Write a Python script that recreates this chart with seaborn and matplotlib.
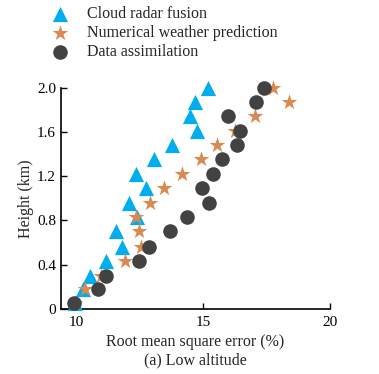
import numpy as np
import pandas as pd
import seaborn as sns
import matplotlib.pyplot as plt
from matplotlib.ticker import FuncFormatter

methods = ['Cloud radar fusion', 'Numerical weather prediction', 'Data assimilation']

height = [0.05, 0.18, 0.30, 0.43, 0.56, 0.70, 0.83, 0.96,
          1.09, 1.22, 1.35, 1.48, 1.61, 1.74, 1.87, 2.00]

radar_rmse = [9.95, 10.26, 10.55, 11.18, 11.79, 11.55, 12.39, 12.06,
              12.76, 12.34, 13.05, 13.79, 14.76, 14.47, 14.67, 15.20]
nwp_rmse = [9.95, 10.33, 10.99, 11.91, 12.54, 12.46, 12.34, 12.92,
            13.46, 14.16, 14.90, 15.53, 16.25, 17.04, 18.38, 17.76]
da_rmse = [9.93, 10.85, 11.18, 12.46, 12.87, 13.71, 14.37, 15.24,
           14.97, 15.37, 15.75, 16.32, 16.47, 15.96, 17.10, 17.40]


def build_frame():
	rows = []
	for name, vals in zip(methods, [radar_rmse, nwp_rmse, da_rmse]):
		for h, v in zip(height, vals):
			rows.append((name, v, h))
	return pd.DataFrame(rows, columns=['Method', 'RMSE', 'Height'])


def create_graph(df, output_graph):
	sns.set_style('ticks')
	plt.rcParams['font.family'] = ['Liberation Serif', 'DejaVu Serif']
	plt.rcParams['xtick.direction'] = 'in'
	plt.rcParams['ytick.direction'] = 'in'

	fig = plt.figure(figsize=(3.79, 3.74), dpi=100)
	ax = fig.add_axes([0.161, 0.174, 0.71, 0.592])

	palette = {methods[0]: '#00aeef', methods[1]: '#d98a50', methods[2]: '#424242'}
	markers = {methods[0]: '^', methods[1]: '*', methods[2]: 'o'}
	sizes = {methods[0]: 120, methods[1]: 140, methods[2]: 110}

	# triangles first, circles on top
	for m in methods:
		sub = df[df['Method'] == m]
		sns.scatterplot(data=sub, x='RMSE', y='Height', color=palette[m],
			marker=markers[m], s=sizes[m], linewidth=0, label=m,
			ax=ax, clip_on=False, zorder=3)

	ax.set_xlim(9.4, 20)
	ax.set_ylim(0, 2.0)
	ax.set_xticks([10, 15, 20])
	ax.set_yticks([0, 0.4, 0.8, 1.2, 1.6, 2.0])
	ax.yaxis.set_major_formatter(FuncFormatter(lambda v, p: '0' if v == 0 else '%.1f' % v))
	ax.tick_params(labelsize=11, length=4, width=1, colors='black')
	ax.tick_params(axis='x', pad=5)
	for s in ['top', 'right']:
		ax.spines[s].set_visible(False)
	for s in ['left', 'bottom']:
		ax.spines[s].set_linewidth(1.2)
		ax.spines[s].set_color('black')

	ax.set_xlabel('Root mean square error (%)\n(a) Low altitude', fontsize=11.5, linespacing=1.2, labelpad=4)
	ax.set_ylabel('Height (km)', fontsize=11.5, labelpad=2)

	handles, labels = ax.get_legend_handles_labels()
	ax.legend(handles, labels, loc='upper left', bbox_to_anchor=(0.10, 1.0),
		bbox_transform=fig.transFigure, frameon=False, fontsize=11.5,
		handletextpad=0.7, labelspacing=0.18, borderaxespad=0, markerscale=1.0)

	plt.savefig(output_graph, dpi=100)


def main():
	create_graph(build_frame(), 'out.png')


if __name__ == "__main__":
	main()
